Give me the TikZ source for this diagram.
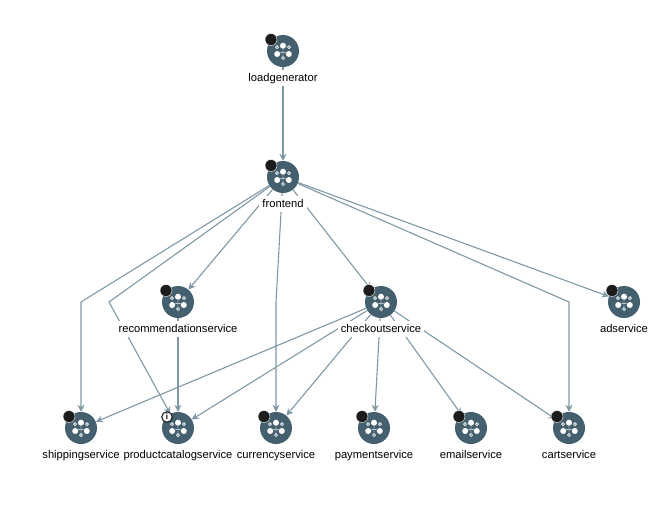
\documentclass[tikz,border=0pt]{standalone}
\usepackage{fontspec}
\setmainfont{Liberation Sans}
\usetikzlibrary{positioning, arrows.meta, calc}
\definecolor{svcfill}{HTML}{44606F}
\definecolor{svcedge}{HTML}{7F98A6}
\definecolor{svcbadge}{HTML}{1C1C1C}
\tikzset{
    svc/.style={ % workload circle
        circle,
        fill=svcfill,
        minimum size=32pt,
        inner sep=0pt
    },
    svclabel/.style={ % name below the circle
        fill=white,
        inner xsep=3pt,
        inner ysep=0pt,
        minimum height=16pt,
        text height=10pt,
        text depth=2.5pt,
        font=\fontsize{11.2pt}{13pt}\selectfont,
        text=black
    },
    badge/.style={
        circle,
        fill=svcbadge,
        draw=white,
        line width=.4pt,
        minimum size=12pt,
        inner sep=0pt
    },
    infobadge/.style={
        circle,
        fill=white,
        draw=svcbadge,
        line width=1.1pt,
        minimum size=10.5pt,
        inner sep=0pt,
        font=\bfseries\fontsize{8pt}{8pt}\selectfont
    },
    link/.style={
        draw=svcedge,
        line width=1.1pt,
        -{Stealth[length=7pt,width=7pt]}
    },
    dot/.style={circle, fill=white, minimum size=6pt, inner sep=0pt},
    smalldot/.style={circle, draw=white, line width=.7pt, minimum size=3pt, inner sep=0pt},
}
% the little mesh glyph inside a circle
\newcommand{\svcglyph}[1]{
    \coordinate (#1m) at ($(#1)+(0,1)$);
    \draw[white, line width=.4pt] (#1m) -- ($(#1)+(0,-5)$) (#1m) -- ($(#1)+(-6,3)$) (#1m) -- ($(#1)+(6,3)$) (#1m) -- ($(#1)+(0,6.5)$);
    \node[dot] (#1t) at ($(#1)+(0,-5.3)$) {};
    \node[dot] (#1l) at ($(#1)+(-5.8,3)$) {};
    \node[dot] (#1r) at ($(#1)+(5.8,3)$) {};
    \node[smalldot] (#1a) at ($(#1)+(-6,-3.8)$) {};
    \node[smalldot] (#1b) at ($(#1)+(6,-3.8)$) {};
    \node[smalldot] (#1c) at ($(#1)+(0,7)$) {};
}
\begin{document}
\begin{tikzpicture}[x=1pt, y=-1pt]
    \useasboundingbox (0,0) rectangle (665,515);
    % circles
    \node[svc] (loadgenerator)  at (283,51)  {};
    \node[svc] (frontend)       at (283,177) {};
    \node[svc] (recommendation) at (178,302) {};
    \node[svc] (checkout)       at (381,302) {};
    \node[svc] (ad)             at (624,302) {};
    \node[svc] (shipping)       at (81,428)  {};
    \node[svc] (catalog)        at (178,428) {};
    \node[svc] (currency)       at (276,428) {};
    \node[svc] (payment)        at (374,428) {};
    \node[svc] (email)          at (471,428) {};
    \node[svc] (cart)           at (569,428) {};
    % bends
    \coordinate (shipbend) at (81,302);
    \coordinate (catbend)  at (109,302);
    \coordinate (curbend)  at (276,302);
    \coordinate (cartbend) at (569,302);
    % edges
    \draw[link] (loadgenerator) -- (frontend);
    \draw[link] (frontend) -- (shipbend) -- (shipping);
    \draw[link] (frontend) -- (catbend) -- (catalog);
    \draw[link] (frontend) -- (recommendation);
    \draw[link] (frontend) -- (curbend) -- (currency);
    \draw[link] (frontend) -- (checkout);
    \draw[link] (frontend) -- (ad);
    \draw[link] (frontend) -- (cartbend) -- (cart);
    \draw[link] (recommendation) -- (catalog);
    \draw[link] (checkout) -- (shipping);
    \draw[link] (checkout) -- (catalog);
    \draw[link] (checkout) -- (currency);
    \draw[link] (checkout) -- (payment);
    \draw[link] (checkout) -- (email);
    \draw[link] (checkout) -- (cart);
    % labels
    \foreach \n/\t in {loadgenerator/loadgenerator, frontend/frontend,
        recommendation/recommendationservice, checkout/checkoutservice, ad/adservice,
        shipping/shippingservice, catalog/productcatalogservice, currency/currencyservice,
        payment/paymentservice, email/emailservice, cart/cartservice}{
        \node[svclabel, below=2.5pt of \n] (\n label) {\t};
        \svcglyph{\n}
    }
    % status badges
    \foreach \n in {loadgenerator, frontend, recommendation, checkout, ad,
        shipping, currency, payment, email, cart}{
        \node[badge] (\n badge) at ($(\n)+(-12,-11.5)$) {};
    }
    \node[infobadge] (catalogbadge) at ($(catalog)+(-11,-11)$) {i};
\end{tikzpicture}
\end{document}
